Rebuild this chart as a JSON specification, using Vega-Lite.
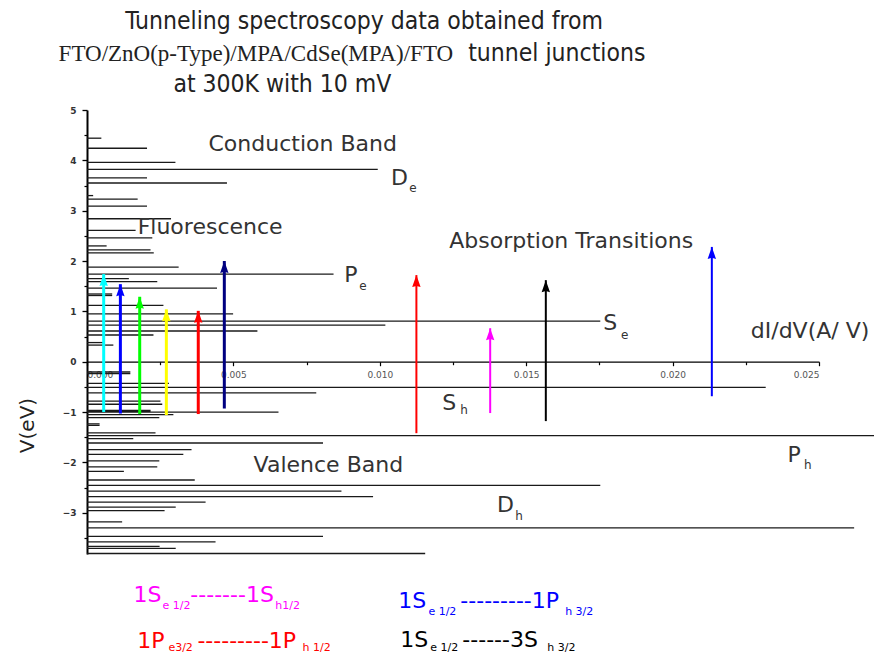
{
  "$schema": "https://vega.github.io/schema/vega-lite/v6.json",
  "width": 732,
  "height": 444,
  "autosize": {"type": "none"},
  "padding": {"left": 87, "top": 110, "right": 55, "bottom": 100},
  "background": "white",
  "config": {"view": {"stroke": null}, "font": "DejaVu Sans"},
  "datasets": {
    "spectrum": [
      {"bias": 4.44, "conductance": 0.00049},
      {"bias": 4.24, "conductance": 0.00205},
      {"bias": 3.96, "conductance": 0.00302},
      {"bias": 3.82, "conductance": 0.00993},
      {"bias": 3.65, "conductance": 0.00205},
      {"bias": 3.55, "conductance": 0.00478},
      {"bias": 3.30, "conductance": 0.00021},
      {"bias": 3.23, "conductance": 0.00173},
      {"bias": 3.09, "conductance": 0.00205},
      {"bias": 2.84, "conductance": 0.00287},
      {"bias": 2.61, "conductance": 0.00166},
      {"bias": 2.46, "conductance": 0.00223},
      {"bias": 2.30, "conductance": 0.00067},
      {"bias": 2.22, "conductance": 0.00217},
      {"bias": 2.16, "conductance": 0.00228},
      {"bias": 1.88, "conductance": 0.00313},
      {"bias": 1.74, "conductance": 0.00842},
      {"bias": 1.65, "conductance": 0.00143},
      {"bias": 1.59, "conductance": 0.0024},
      {"bias": 1.46, "conductance": 0.00444},
      {"bias": 1.345, "conductance": 0.00086},
      {"bias": 1.315, "conductance": 0.00086},
      {"bias": 1.12, "conductance": 0.00261},
      {"bias": 0.95, "conductance": 0.00499},
      {"bias": 0.805, "conductance": 0.01753},
      {"bias": 0.725, "conductance": 0.01019},
      {"bias": 0.61, "conductance": 0.00582},
      {"bias": 0.53, "conductance": 0.00227},
      {"bias": 0.38, "conductance": 0.00056},
      {"bias": 0.33, "conductance": 0.0009},
      {"bias": -0.205, "conductance": 0.00148},
      {"bias": -0.235, "conductance": 0.00148},
      {"bias": -0.43, "conductance": 0.0028},
      {"bias": -0.51, "conductance": 0.02318},
      {"bias": -0.62, "conductance": 0.00783},
      {"bias": -0.785, "conductance": 0.00251},
      {"bias": -0.845, "conductance": 0.00257},
      {"bias": -0.965, "conductance": 0.00217},
      {"bias": -0.985, "conductance": 0.00217},
      {"bias": -1.0, "conductance": 0.00654},
      {"bias": -1.05, "conductance": 0.00295},
      {"bias": -1.11, "conductance": 0.00247},
      {"bias": -1.235, "conductance": 0.00043},
      {"bias": -1.265, "conductance": 0.00043},
      {"bias": -1.415, "conductance": 0.00234},
      {"bias": -1.47, "conductance": 0.02688},
      {"bias": -1.53, "conductance": 0.00158},
      {"bias": -1.615, "conductance": 0.00806},
      {"bias": -1.745, "conductance": 0.00357},
      {"bias": -1.84, "conductance": 0.00329},
      {"bias": -1.97, "conductance": 0.00247},
      {"bias": -2.09, "conductance": 0.0024},
      {"bias": -2.18, "conductance": 0.00126},
      {"bias": -2.35, "conductance": 0.00368},
      {"bias": -2.455, "conductance": 0.01753},
      {"bias": -2.57, "conductance": 0.00869},
      {"bias": -2.68, "conductance": 0.00977},
      {"bias": -2.79, "conductance": 0.00405},
      {"bias": -2.89, "conductance": 0.00303},
      {"bias": -2.96, "conductance": 0.00265},
      {"bias": -3.18, "conductance": 0.0012},
      {"bias": -3.30, "conductance": 0.0262},
      {"bias": -3.47, "conductance": 0.00806},
      {"bias": -3.58, "conductance": 0.00439},
      {"bias": -3.67, "conductance": 0.00248},
      {"bias": -3.71, "conductance": 0.00303},
      {"bias": -3.81, "conductance": 0.01155}
    ],
    "transitions": [
      {"id": "F1", "kind": "fluorescence", "conductance": 0.00057, "from": -1.0, "to": 1.74},
      {"id": "F2", "kind": "fluorescence", "conductance": 0.00114, "from": -1.03, "to": 1.54},
      {"id": "F3", "kind": "fluorescence", "conductance": 0.0018, "from": -1.04, "to": 1.29},
      {"id": "F4", "kind": "fluorescence", "conductance": 0.00271, "from": -1.06, "to": 1.04},
      {"id": "F5", "kind": "fluorescence", "conductance": 0.0038, "from": -1.04, "to": 1.01},
      {"id": "F6", "kind": "fluorescence", "conductance": 0.00469, "from": -0.93, "to": 2.0},
      {"id": "1P-1P", "kind": "absorption", "conductance": 0.01125, "from": -1.42, "to": 1.72},
      {"id": "1S-1S", "kind": "absorption", "conductance": 0.01377, "from": -1.02, "to": 0.665},
      {"id": "1S-3S", "kind": "absorption", "conductance": 0.01567, "from": -1.18, "to": 1.62},
      {"id": "1S-1P", "kind": "absorption", "conductance": 0.02134, "from": -0.686, "to": 2.28}
    ],
    "labels": [
      {"label": "Conduction Band", "xpos": 0.00415, "ypos": 4.185},
      {"label": "Fluorescence", "xpos": 0.00173, "ypos": 2.529},
      {"label": "Absorption Transitions", "xpos": 0.01237, "ypos": 2.25},
      {"label": "Valence Band", "xpos": 0.00569, "ypos": -2.19},
      {"label": "D", "xpos": 0.01038, "ypos": 3.509},
      {"label": "P", "xpos": 0.00879, "ypos": 1.587},
      {"label": "S", "xpos": 0.01763, "ypos": 0.626},
      {"label": "dI/dV(A/ V)", "xpos": 0.02267, "ypos": 0.467},
      {"label": "S", "xpos": 0.01213, "ypos": -0.964},
      {"label": "P", "xpos": 0.02392, "ypos": -1.99},
      {"label": "D", "xpos": 0.0140, "ypos": -2.99}
    ],
    "subscripts": [
      {"label": "e", "xpos": 0.01101, "ypos": 3.37},
      {"label": "e", "xpos": 0.0093, "ypos": 1.42},
      {"label": "e", "xpos": 0.01824, "ypos": 0.447},
      {"label": "h", "xpos": 0.01275, "ypos": -1.04},
      {"label": "h", "xpos": 0.02449, "ypos": -2.137},
      {"label": "h", "xpos": 0.01463, "ypos": -3.15}
    ],
    "heading": [
      {"label": "Tunneling spectroscopy data obtained from", "xpos": 0.00131, "ypos": 6.6},
      {"label": "tunnel junctions", "xpos": 0.01302, "ypos": 5.97},
      {"label": "at 300K with 10 mV", "xpos": 0.00295, "ypos": 5.35}
    ],
    "headingSerif": [
      {"label": "FTO/ZnO(p-Type)/MPA/CdSe(MPA)/FTO", "xpos": -0.00097, "ypos": 5.97}
    ],
    "keyText": [
      {"id": "1S-1S", "label": "1S", "xpos": 0.00159, "ypos": -4.78},
      {"id": "1S-1S", "label": "-------1S", "xpos": 0.00353, "ypos": -4.78},
      {"id": "1P-1P", "label": "1P", "xpos": 0.00172, "ypos": -5.68},
      {"id": "1P-1P", "label": "---------1P", "xpos": 0.00377, "ypos": -5.68},
      {"id": "1S-1P", "label": "1S", "xpos": 0.01063, "ypos": -4.895},
      {"id": "1S-1P", "label": "---------1P", "xpos": 0.01275, "ypos": -4.895},
      {"id": "1S-3S", "label": "1S", "xpos": 0.0107, "ypos": -5.67},
      {"id": "1S-3S", "label": "------3S", "xpos": 0.01282, "ypos": -5.67}
    ],
    "keySub": [
      {"id": "1S-1S", "label": "e 1/2", "xpos": 0.00258, "ypos": -4.92},
      {"id": "1S-1S", "label": "h1/2", "xpos": 0.00643, "ypos": -4.92},
      {"id": "1P-1P", "label": "e3/2", "xpos": 0.00278, "ypos": -5.75},
      {"id": "1P-1P", "label": "h 1/2", "xpos": 0.00736, "ypos": -5.75},
      {"id": "1S-1P", "label": "e 1/2", "xpos": 0.01166, "ypos": -5.04},
      {"id": "1S-1P", "label": "h 3/2", "xpos": 0.01633, "ypos": -5.04},
      {"id": "1S-3S", "label": "e 1/2", "xpos": 0.01172, "ypos": -5.75},
      {"id": "1S-3S", "label": "h 3/2", "xpos": 0.01572, "ypos": -5.75}
    ]
  },
  "resolve": {"axis": {"x": "independent", "y": "independent"}},
  "layer": [
    {
      "data": {"name": "spectrum"},
      "mark": {"type": "rule", "color": "#1a1a1a", "strokeWidth": 1.3},
      "encoding": {
        "x": {
          "field": "conductance", "type": "quantitative",
          "scale": {"domain": [0, 0.025], "nice": false, "zero": false},
          "axis": {
            "orient": "bottom", "offset": -192.3, "title": null, "grid": false,
            "values": [0, 0.005, 0.01, 0.015, 0.02, 0.025], "format": ".3f",
            "labelFont": "DejaVu Sans", "labelFontSize": 9, "labelColor": "#555",
            "labelPadding": 5, "tickSize": 4, "tickColor": "#000", "tickWidth": 1.2,
            "domainColor": "#000", "domainWidth": 1.3
          }
        },
        "x2": {"datum": 0},
        "y": {
          "field": "bias", "type": "quantitative",
          "scale": {"domain": [-3.82, 5], "nice": false, "zero": false},
          "axis": {
            "orient": "left", "grid": false,
            "values": [-3, -2, -1, 0, 1, 2, 3, 4, 5], "format": "d",
            "labelFont": "DejaVu Sans", "labelFontSize": 9, "labelFontWeight": "bold",
            "labelColor": "#333", "labelPadding": 6,
            "tickSize": 5, "tickColor": "#000", "tickWidth": 1.3,
            "domainColor": "#000", "domainWidth": 2,
            "title": "V(eV)", "titleFont": "DejaVu Sans", "titleFontSize": 20,
            "titleFontWeight": "normal", "titleColor": "#222",
            "titleX": -60, "titleY": 315, "titleAngle": 270,
            "titleAlign": "center", "titleBaseline": "middle"
          }
        }
      }
    },
    {
      "data": {"name": "transitions"},
      "mark": {"type": "rule"},
      "encoding": {
        "x": {
          "field": "conductance", "type": "quantitative",
          "scale": {"domain": [0, 0.025], "nice": false, "zero": false},
          "axis": {
            "orient": "bottom", "offset": -192.3, "title": null, "grid": false,
            "labels": false, "domain": false,
            "values": [0.0025, 0.0075, 0.0125, 0.0175, 0.0225],
            "tickSize": 3, "tickColor": "#000", "tickWidth": 1.2
          }
        },
        "y": {
          "field": "from", "type": "quantitative",
          "scale": {"domain": [-3.82, 5], "nice": false, "zero": false},
          "axis": {
            "orient": "left", "title": null, "grid": false,
            "labels": false, "domain": false,
            "values": [-3.5, -2.5, -1.5, -0.5, 0.5, 1.5, 2.5, 3.5, 4.5],
            "tickSize": 3, "tickColor": "#000", "tickWidth": 1.2
          }
        },
        "y2": {"field": "to"},
        "color": {
          "field": "id", "type": "nominal", "legend": null,
          "scale": {
            "domain": ["F1", "F2", "F3", "F4", "F5", "F6", "1S-1S", "1P-1P", "1S-1P", "1S-3S"],
            "range": ["#00ffff", "#0000ff", "#00ff00", "#ffff00", "#ff0000", "#000080", "#ff00ff", "#ff0000", "#0000ff", "#000000"]
          }
        },
        "strokeWidth": {
          "field": "kind", "type": "nominal", "legend": null,
          "scale": {"domain": ["fluorescence", "absorption"], "range": [3, 2]}
        }
      }
    },
    {
      "data": {"name": "transitions"},
      "mark": {
        "type": "point", "filled": true, "opacity": 1, "size": 144, "strokeWidth": 0,
        "shape": "M0,0L-0.7,2L0,1.8L0.7,2Z"
      },
      "encoding": {
        "x": {"field": "conductance", "type": "quantitative", "scale": {"domain": [0, 0.025], "nice": false, "zero": false}, "axis": null},
        "y": {"field": "to", "type": "quantitative", "scale": {"domain": [-3.82, 5], "nice": false, "zero": false}, "axis": null},
        "color": {"field": "id", "type": "nominal", "legend": null}
      }
    },
    {
      "data": {"name": "labels"},
      "mark": {"type": "text", "font": "DejaVu Sans", "fontSize": 22, "color": "#333", "align": "left", "baseline": "alphabetic"},
      "encoding": {
        "x": {"field": "xpos", "type": "quantitative", "scale": {"domain": [0, 0.025], "nice": false, "zero": false}, "axis": null},
        "y": {"field": "ypos", "type": "quantitative", "scale": {"domain": [-3.82, 5], "nice": false, "zero": false}, "axis": null},
        "text": {"field": "label"}
      }
    },
    {
      "data": {"name": "subscripts"},
      "mark": {"type": "text", "font": "DejaVu Sans", "fontSize": 12, "color": "#333", "align": "left", "baseline": "alphabetic"},
      "encoding": {
        "x": {"field": "xpos", "type": "quantitative", "scale": {"domain": [0, 0.025], "nice": false, "zero": false}, "axis": null},
        "y": {"field": "ypos", "type": "quantitative", "scale": {"domain": [-3.82, 5], "nice": false, "zero": false}, "axis": null},
        "text": {"field": "label"}
      }
    },
    {
      "data": {"name": "heading"},
      "mark": {"type": "text", "font": "Liberation Sans Narrow, DejaVu Sans Condensed, sans-serif", "fontSize": 24.5, "color": "#222", "align": "left", "baseline": "alphabetic"},
      "encoding": {
        "x": {"field": "xpos", "type": "quantitative", "scale": {"domain": [0, 0.025], "nice": false, "zero": false}, "axis": null},
        "y": {"field": "ypos", "type": "quantitative", "scale": {"domain": [-3.82, 5], "nice": false, "zero": false}, "axis": null},
        "text": {"field": "label"}
      }
    },
    {
      "data": {"name": "headingSerif"},
      "mark": {"type": "text", "font": "Liberation Serif", "fontSize": 23, "color": "#222", "align": "left", "baseline": "alphabetic"},
      "encoding": {
        "x": {"field": "xpos", "type": "quantitative", "scale": {"domain": [0, 0.025], "nice": false, "zero": false}, "axis": null},
        "y": {"field": "ypos", "type": "quantitative", "scale": {"domain": [-3.82, 5], "nice": false, "zero": false}, "axis": null},
        "text": {"field": "label"}
      }
    },
    {
      "data": {"name": "keyText"},
      "mark": {"type": "text", "font": "DejaVu Sans", "fontSize": 22, "align": "left", "baseline": "alphabetic"},
      "encoding": {
        "x": {"field": "xpos", "type": "quantitative", "scale": {"domain": [0, 0.025], "nice": false, "zero": false}, "axis": null},
        "y": {"field": "ypos", "type": "quantitative", "scale": {"domain": [-3.82, 5], "nice": false, "zero": false}, "axis": null},
        "text": {"field": "label"},
        "color": {"field": "id", "type": "nominal", "legend": null}
      }
    },
    {
      "data": {"name": "keySub"},
      "mark": {"type": "text", "font": "DejaVu Sans", "fontSize": 11, "align": "left", "baseline": "alphabetic"},
      "encoding": {
        "x": {"field": "xpos", "type": "quantitative", "scale": {"domain": [0, 0.025], "nice": false, "zero": false}, "axis": null},
        "y": {"field": "ypos", "type": "quantitative", "scale": {"domain": [-3.82, 5], "nice": false, "zero": false}, "axis": null},
        "text": {"field": "label"},
        "color": {"field": "id", "type": "nominal", "legend": null}
      }
    }
  ]
}
